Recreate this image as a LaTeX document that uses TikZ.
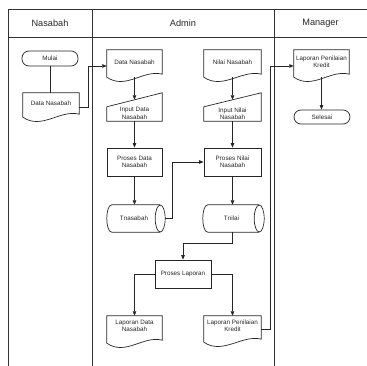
\documentclass[tikz,border=0pt]{standalone}
\usepackage{fontspec}
\setmainfont{Liberation Sans}
\usetikzlibrary{arrows.meta,calc}

% outline of a document symbol (wavy bottom) around a named box node
\newcommand\docoutline[1]{%
  \draw[shp] (#1.south west) -- (#1.north west) -- (#1.north east)
    -- ($(#1.south east)+(0,-3)$) .. controls +(-19,-5) and +(19,13) .. (#1.south west) -- cycle;}
% outline of a manual-input symbol (slanted top)
\newcommand\inoutline[1]{%
  \draw[shp] (#1.south west) -- ($(#1.north west)+(0,14)$) -- (#1.north east)
    -- (#1.south east) -- cycle;}
% outline of a horizontal storage cylinder
\newcommand\cyloutline[1]{%
  \draw[shp] ($(#1.north east)+(-5,0)$) -- ($(#1.north west)+(5,0)$)
    .. controls +(-6.67,0) and +(-6.67,0) .. ($(#1.south west)+(5,0)$)
    -- ($(#1.south east)+(-5,0)$);
  \draw[shp] ($(#1.east)+(-5,0)$) ellipse [x radius=5, y radius=13.5];}

\tikzset{
  shp/.style={line width=0.7pt, draw=black!85},
  lane/.style={line width=0.8pt, draw=black!80},
  box/.style={rectangle, inner sep=0pt, draw=none},
  txt/.style={inner sep=0pt, align=center, font=\fontsize{6.3}{7.4}\selectfont, text=black!85},
  hdr/.style={inner sep=0pt, font=\fontsize{9.2}{11}\selectfont, text=black!85},
  term/.style={rectangle, rounded corners=7pt, shp, inner sep=0pt, align=center,
    font=\fontsize{6.3}{7.4}\selectfont, text=black!85},
  proc/.style={rectangle, shp, inner sep=0pt, align=center,
    font=\fontsize{6.3}{7.4}\selectfont, text=black!85},
  flow/.style={line width=0.7pt, draw=black!85, -{Triangle[length=4.5pt,width=3.5pt]}},
  plain/.style={line width=0.7pt, draw=black!85}
}

\begin{document}
\begin{tikzpicture}[x=1pt, y=-1pt]
\useasboundingbox (0,0) rectangle (367,366);

% swimlane frame
\draw[lane] (8,9) -- (367,9);
\draw[lane] (8,37) -- (367,37);
\draw[lane] (8,9) -- (8,366);
\draw[lane] (92,9) -- (92,366);
\draw[lane] (274,9) -- (274,366);
\node[hdr] (hN) at (50,23) {Nasabah};
\node[hdr] (hA) at (183,23) {Admin};
\node[hdr] (hM) at (320.5,23) {Manager};

% Nasabah lane
\node[term, minimum width=56, minimum height=15] (mulai) at (50,58.5) {Mulai};
\node[box, minimum width=56, minimum height=24] (dnA) at (51,105) {};
\docoutline{dnA}
\node[txt] (dnA-t) at (51,103) {Data Nasabah};

% Admin lane, left column
\node[box, minimum width=55, minimum height=27] (dnB) at (134.5,63.5) {};
\docoutline{dnB}
\node[txt] (dnB-t) at (134.5,62) {Data Nasabah};

\node[box, minimum width=55, minimum height=28] (in1) at (134.5,107) {};
\inoutline{in1}
\coordinate (in1-top) at ($(in1.north)+(0,7)$);
\node[txt] (in1-t) at (134.5,113.5) {Input Data\\Nasabah};

\node[proc, minimum width=55, minimum height=28] (pd1) at (134.5,162) {Proses Data\\Nasabah};

\node[box, minimum width=58, minimum height=27] (tn) at (136,218.5) {};
\cyloutline{tn}
\node[txt] (tn-t) at (134,218.5) {Tnasabah};

% Admin lane, right column
\node[box, minimum width=57, minimum height=27] (nn) at (232.5,63.5) {};
\docoutline{nn}
\node[txt] (nn-t) at (232.5,62) {Nilai Nasabah};

\node[box, minimum width=57, minimum height=28] (in2) at (232.5,107) {};
\inoutline{in2}
\coordinate (in2-top) at ($(in2.north)+(0,7)$);
\node[txt] (in2-t) at (232.5,113.5) {Input Nilai\\Nasabah};

\node[proc, minimum width=57, minimum height=28] (pn) at (232.5,162) {Proses Nilai\\Nasabah};

\node[box, minimum width=61, minimum height=27] (tl) at (233.5,218.5) {};
\cyloutline{tl}
\node[txt] (tl-t) at (231.5,218.5) {Tnilai};

\node[proc, minimum width=56, minimum height=28] (pl) at (183,274) {Proses Laporan};

\node[box, minimum width=55, minimum height=27] (ld) at (134.5,329.5) {};
\docoutline{ld}
\node[txt] (ld-t) at (134.5,326) {Laporan Data\\Nasabah};

\node[box, minimum width=57, minimum height=26] (lp) at (232.5,329) {};
\docoutline{lp}
\node[txt] (lp-t) at (232.5,326) {Laporan Penilaian\\Kredit};

% Manager lane
\node[box, minimum width=55, minimum height=27] (mg) at (321.5,63.5) {};
\docoutline{mg}
\node[txt] (mg-t) at (321.5,61.5) {Laporan Penilaian\\Kredit};
\node[term, minimum width=56, minimum height=14] (sel) at (322,117) {Selesai};

% connectors
\draw[plain] (mulai.south) -- (mulai.south |- dnA.north);
\draw[flow] ($(dnA.east)+(0,2)$) -- ++(9,0) |- ($(dnB.west)+(0,2.5)$);
\draw[flow] (dnB.south) -- (in1-top);
\draw[flow] (in1.south) -- (pd1.north);
\draw[flow] (pd1.south) -- (pd1.south |- tn.north);
\draw[flow] (tn.east) -- ++(7,0) |- (pn.west);
\draw[flow] (nn.south) -- (in2-top);
\draw[flow] (in2.south) -- (pn.north);
\draw[flow] (pn.south) -- (pn.south |- tl.north);
\draw[flow] (pn.south |- tl.south) -- ++(0,11) -| (pl.north);
\draw[flow] (pl.west) -| (ld.north);
\draw[flow] (pl.east) -| (lp.north);
\draw[flow] (lp.east) -- ++(9,0) |- ($(mg.west)+(0,2.5)$);
\draw[flow] (mg.south) -- (mg.south |- sel.north);
\end{tikzpicture}
\end{document}
